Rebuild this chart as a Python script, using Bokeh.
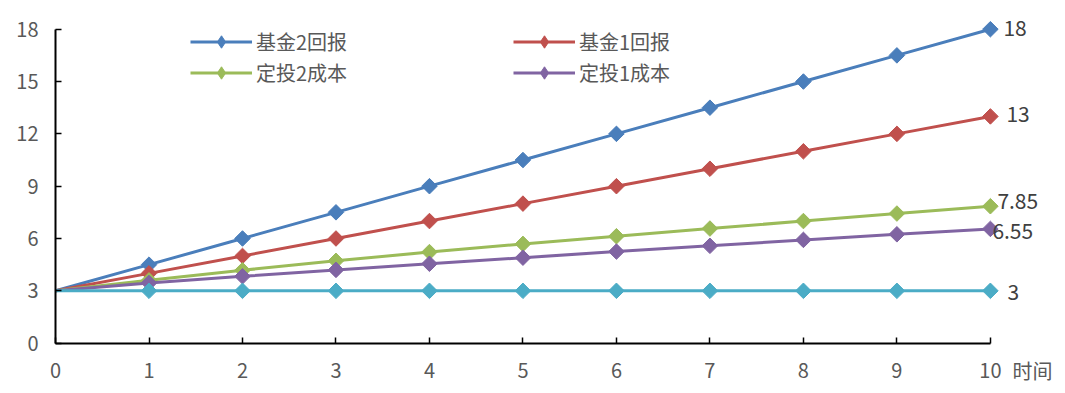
import math
from bokeh.plotting import figure
from bokeh.models import (ColumnDataSource, FixedTicker, Range1d, Legend, LegendItem,
                          LabelSet, Label)
from bokeh.core.properties import value
from bokeh.embed import file_html
from bokeh.resources import INLINE

# ---------------- data ----------------
periods = [0, 1, 2, 3, 4, 5, 6, 7, 8, 9, 10]
fund2_return = [3, 4.5, 6, 7.5, 9, 10.5, 12, 13.5, 15, 16.5, 18]
fund1_return = [3, 4, 5, 6, 7, 8, 9, 10, 11, 12, 13]
dca2_cost = [3, 3.6, 4.18, 4.72, 5.22, 5.69, 6.13, 6.57, 7.0, 7.43, 7.85]
dca1_cost = [3, 3.45, 3.83, 4.2, 4.55, 4.9, 5.25, 5.58, 5.92, 6.24, 6.55]
principal = [3, 3, 3, 3, 3, 3, 3, 3, 3, 3, 3]
series_names = ["基金2回报", "基金1回报", "定投2成本", "定投1成本", None]
end_labels = ["18", "13", "7.85", "6.55", "3"]
y_ticks = [0, 3, 6, 9, 12, 15, 18]
x_ticks = [0, 1, 2, 3, 4, 5, 6, 7, 8, 9, 10]
x_axis_title = "时间"

# ---------------- style ----------------
colors = ["#4A7EBB", "#C0504D", "#9BBB59", "#8064A2", "#4BACC6"]
label_dx = [13, 16, 7, 2, 17]
label_dy = [1, 2, 5, -2, -1]
FONT = "Noto Sans CJK SC"
TICK_COLOR = "#595959"
NAN = float("nan")

p = figure(width=1062, height=385, output_backend="svg", toolbar_location=None,
           x_range=Range1d(-0.535, 10.75), y_range=Range1d(-2.2, 18.5),
           min_border_left=5, min_border_right=2, min_border_top=20,
           min_border_bottom=4)
p.outline_line_color = None
p.grid.visible = False
p.background_fill_color = "white"

all_series = [fund2_return, fund1_return, dca2_cost, dca1_cost, principal]
items = {}
for vals, col, name in zip(all_series, colors, series_names):
    src = ColumnDataSource(dict(x=periods, y=vals))
    msrc = ColumnDataSource(dict(x=periods[1:], y=vals[1:]))
    lr = p.line("x", "y", source=src, line_color=col, line_width=3)
    p.scatter("x", "y", source=msrc, marker="square", angle=math.pi / 4,
              size=11, fill_color=col, line_color=col)
    if name:
        # legend-only marker renderer (a single NaN point, never drawn)
        lg = p.scatter(x=[NAN], y=[NAN], marker="diamond", fill_color=col,
                       line_color=col)
        items[name] = LegendItem(label=name, renderers=[lr, lg])

legend = Legend(items=[items["基金2回报"], items["基金1回报"],
                       items["定投2成本"], items["定投1成本"]],
                orientation="horizontal", ncols=2,
                location=(185, 293), padding=0, margin=0,
                border_line_color=None, background_fill_alpha=0,
                glyph_width=62, glyph_height=31, label_standoff=4,
                label_width=257, label_height=20, spacing=0,
                label_text_font=FONT, label_text_font_size="20px",
                label_text_color=TICK_COLOR)
p.add_layout(legend)

# end-value labels
ends = ColumnDataSource(dict(x=[periods[-1]] * 5,
                             y=[s[-1] for s in all_series],
                             text=end_labels, dx=label_dx, dy=label_dy))
p.add_layout(LabelSet(x="x", y="y", text="text", source=ends,
                      x_offset="dx", y_offset="dy",
                      text_font=value(FONT), text_font_size=value("21px"),
                      text_color="#404040",
                      text_baseline="middle", text_align="left"))

# axes
for ax in (p.xaxis[0], p.yaxis[0]):
    ax.axis_line_color = "black"
    ax.axis_line_width = 2
    ax.major_tick_line_color = "black"
    ax.major_tick_line_width = 1.5
    ax.major_tick_in = 6
    ax.major_tick_out = 0
    ax.minor_tick_line_color = None
    ax.major_label_text_font = FONT
    ax.major_label_text_font_size = "20px"
    ax.major_label_text_color = TICK_COLOR

p.xaxis.ticker = FixedTicker(ticks=x_ticks)
p.yaxis.ticker = FixedTicker(ticks=y_ticks)
p.xaxis.bounds = (0, 10)
p.yaxis.bounds = (0, 18)
p.xaxis.fixed_location = 0
p.yaxis.fixed_location = 0
p.xaxis.major_label_standoff = 20
p.yaxis.major_label_standoff = 17

p.add_layout(Label(x=periods[-1], y=0, x_offset=22, y_offset=-27, text=x_axis_title,
                   text_font=FONT, text_font_size="20px", text_color=TICK_COLOR,
                   text_baseline="middle", text_align="left"))

open("out.html", "w").write(file_html(p, INLINE))
